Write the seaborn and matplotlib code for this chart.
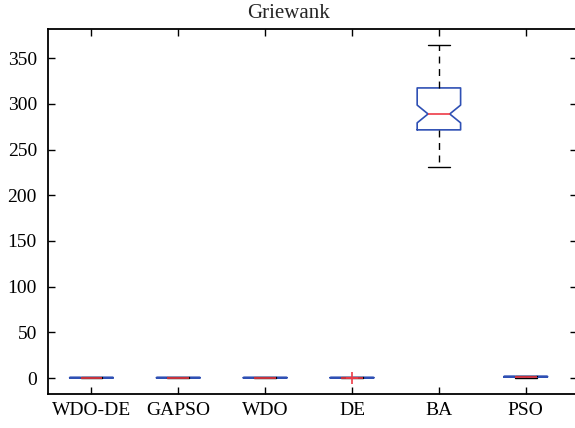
import matplotlib
matplotlib.use("Agg")
import matplotlib.pyplot as plt
import seaborn as sns

# Summary statistics for each algorithm on the Griewank function
algorithms = ["WDO-DE", "GAPSO", "WDO", "DE", "BA", "PSO"]
medians    = [0.3, 0.3, 0.3, 0.3, 289.0, 1.4]
q1_values  = [0.1, 0.1, 0.1, 0.1, 271.6, 1.2]
q3_values  = [0.6, 0.6, 0.6, 0.6, 317.5, 1.8]
whisk_low  = [0.0, 0.0, 0.0, 0.0, 231.0, 0.0]
whisk_high = [0.8, 0.8, 0.8, 0.8, 364.0, 2.0]
notch_low  = [0.2, 0.2, 0.2, 0.2, 279.3, 1.3]
notch_high = [0.4, 0.4, 0.4, 0.4, 298.7, 1.5]
outliers   = [[], [], [], [0.2], [], []]

yticks = [0, 50, 100, 150, 200, 250, 300, 350]

sns.set_theme(style="white")
plt.rcParams["font.family"] = ["Liberation Serif", "DejaVu Serif"]

fig = plt.figure(figsize=(5.75, 4.28), dpi=100)
ax = fig.add_axes([48 / 575, 1 - 394 / 428, 529 / 575, 365 / 428])

stats = []
for i, name in enumerate(algorithms):
    stats.append(dict(label=name, med=medians[i], q1=q1_values[i], q3=q3_values[i],
                      whislo=whisk_low[i], whishi=whisk_high[i],
                      cilo=notch_low[i], cihi=notch_high[i], fliers=outliers[i]))

blue = "#2f50b4"
red = "#ee3b47"
ax.bxp(stats, positions=range(1, len(algorithms) + 1), widths=0.5, shownotches=True,
       boxprops=dict(color=blue, linewidth=1.2),
       medianprops=dict(color=red, linewidth=1.2),
       whiskerprops=dict(color="black", linewidth=1.0, linestyle=(0, (5, 4))),
       capprops=dict(color="black", linewidth=1.0),
       flierprops=dict(marker="+", markeredgecolor=red, markersize=9, markeredgewidth=1.2))

ax.set_xlim(0.5, 6.59)
ax.set_ylim(-17.5, 382)
ax.set_yticks(yticks)
ax.set_xticks(range(1, len(algorithms) + 1))
ax.set_xticklabels(algorithms)
title = ax.set_title("Griewank", fontsize=15, pad=8)
title.set_x((288 - 48) / 529)

for side in ["left", "bottom", "top", "right"]:
    ax.spines[side].set_visible(True)
    ax.spines[side].set_color("black")
    ax.spines[side].set_linewidth(1.3)

ax.tick_params(axis="both", direction="in", length=5, width=1.0, color="black",
               labelsize=14, labelcolor="black", top=True, right=True,
               bottom=True, left=True)
ax.tick_params(axis="x", pad=6)
ax.tick_params(axis="y", pad=8)
ax.grid(False)

fig.savefig("out.png", dpi=100)
